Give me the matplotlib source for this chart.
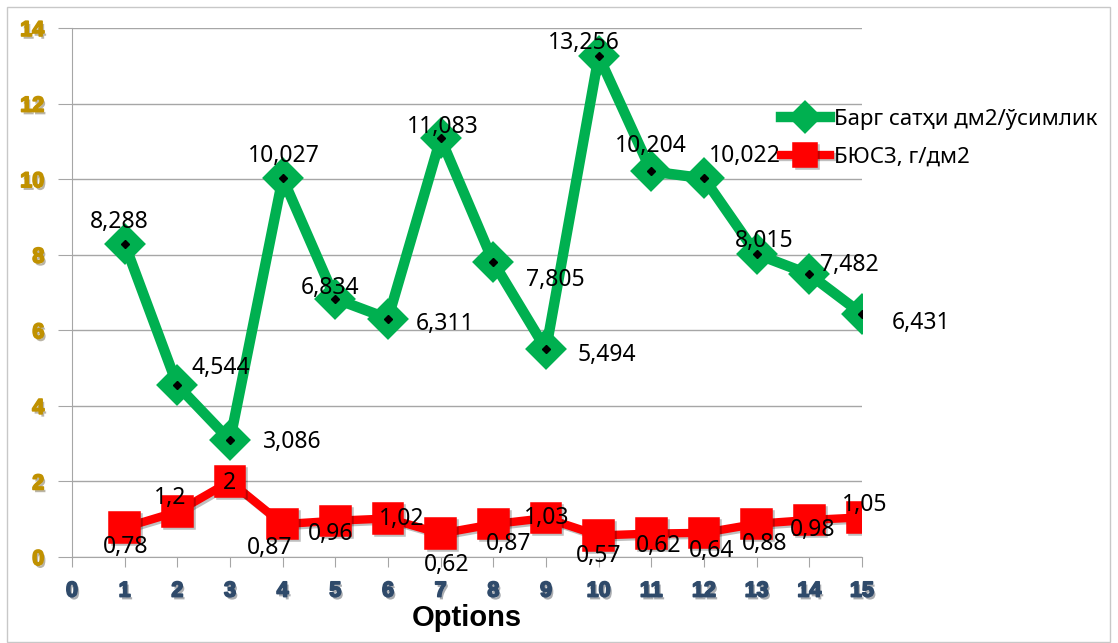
import matplotlib.pyplot as plt
import matplotlib.patheffects as pe
from matplotlib.patches import Rectangle

plt.rcParams['font.family'] = ['Noto Sans', 'DejaVu Sans']

options = list(range(1, 16))
leaf_area = [8.288, 4.544, 3.086, 10.027, 6.834, 6.311, 11.083, 7.805,
             5.494, 13.256, 10.204, 10.022, 8.015, 7.482, 6.431]
bjuz = [0.78, 1.2, 2, 0.87, 0.96, 1.02, 0.62, 0.87,
        1.03, 0.57, 0.62, 0.64, 0.88, 0.98, 1.05]
leaf_label = 'Барг сатҳи дм2/ўсимлик'
bjuz_label = 'БЮСЗ, г/дм2'

# label offsets in pixels (placement only)
green_off = [(-5, 22), (43, 17), (62, -2), (1, 22), (-5, 11), (57, -5), (2, 11), (62, -18),
             (61, -6), (-15, 13), (0, 25), (41, 22), (8, 13), (40, 9), (59, -9)]
red_off = [(1, -19), (-7, 14), (0, -2), (-13, -24), (-5, -13), (14, -1), (6, -31), (15, -20),
           (1, 0), (0, -21), (7, -12), (8, -18), (8, -20), (3, -10), (3, 12)]

green = '#00b050'
red = '#ff0000'
gold = '#c09100'
navy = '#2f4a6a'
bold_font = ['Liberation Sans', 'DejaVu Sans']


def tick_fx(col):
    return [pe.SimplePatchShadow(offset=(1.5, -2), alpha=0.35),
            pe.Stroke(linewidth=1.2, foreground=col), pe.Normal()]


fig = plt.figure(figsize=(11.18, 6.43), dpi=100)
ax = fig.add_axes([72/1118, 86/643, 790/1118, 529/643])

fig.patches.append(Rectangle((7/1118, 1/643), 1103/1118, 635/643, transform=fig.transFigure,
                             fill=False, edgecolor='#c8c8c8', linewidth=1))

ax.plot(options, leaf_area, color=green, linewidth=7.5, marker='D', markersize=17,
        markerfacecolor=green, markeredgecolor=green, markeredgewidth=4,
        solid_joinstyle='round', label=leaf_label, zorder=3)
ax.plot(options, leaf_area, linestyle='none', marker='D', markersize=4.5,
        color='black', zorder=4)
ax.plot(options, bjuz, color=red, linewidth=6, marker='s', markersize=19,
        markerfacecolor=red, markeredgecolor=red, markeredgewidth=4,
        label=bjuz_label, zorder=3,
        path_effects=[pe.SimpleLineShadow(offset=(1.5, -1.5), alpha=0.25), pe.Normal()])

for x, v, off in zip(options, leaf_area, green_off):
    ax.annotate(f'{v:.3f}'.replace('.', ','), (x, v), xytext=off, textcoords='offset pixels',
                ha='center', va='center', fontsize=16.5, zorder=5)
for x, v, off in zip(options, bjuz, red_off):
    s = f'{v:g}'.replace('.', ',')
    ax.annotate(s, (x, v), xytext=off, textcoords='offset pixels',
                ha='center', va='center', fontsize=16.5, zorder=5)

ax.set_xlim(0, 15)
ax.set_ylim(0, 14)
xt = list(range(0, 16))
yt = list(range(0, 15, 2))
ax.set_xticks(xt, [str(t) for t in xt], fontsize=15.5, fontweight='bold', family=bold_font,
              color=navy, path_effects=tick_fx(navy))
ax.set_yticks(yt, [str(t) for t in yt], fontsize=15.5, fontweight='bold', family=bold_font,
              color=gold, path_effects=tick_fx(gold))
ax.grid(axis='y', color='#a6a6a6', linewidth=1)
ax.set_axisbelow(True)
for s in ['top', 'right']:
    ax.spines[s].set_visible(False)
for s in ['left', 'bottom']:
    ax.spines[s].set_color('#a6a6a6')
ax.tick_params(axis='y', length=10, color='#a6a6a6', pad=10)
ax.tick_params(axis='x', length=7, color='#a6a6a6', pad=10)

ax.set_xlabel('Options', fontsize=21, fontweight='bold', family=bold_font, labelpad=2)

ax.legend(loc='upper left', bbox_to_anchor=(772/1118, 1 - 100/643), bbox_transform=fig.transFigure,
          frameon=False, fontsize=16, handlelength=2.2, handletextpad=0.2, labelspacing=0.75,
          markerscale=0.75, borderaxespad=0)

fig.savefig('out.png', dpi=100)
